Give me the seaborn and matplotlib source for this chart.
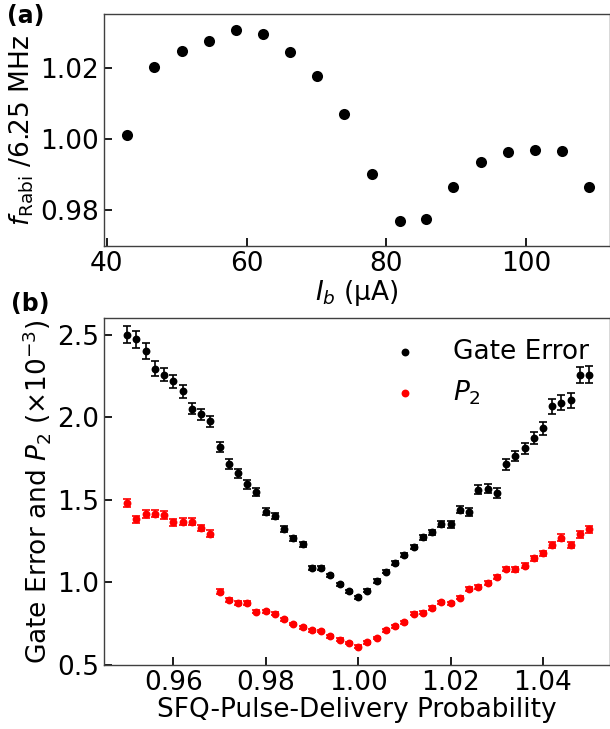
import numpy as np
import pandas as pd
import matplotlib
matplotlib.use("Agg")
import matplotlib.pyplot as plt
import seaborn as sns

# panel (a): Rabi frequency vs bias current
bias_current = [42.9, 46.8, 50.7, 54.6, 58.5, 62.4, 66.2, 70.1, 74.0,
                77.9, 81.9, 85.7, 89.6, 93.5, 97.4, 101.3, 105.2, 109.0]
rabi_ratio = [1.0012, 1.0203, 1.0247, 1.0274, 1.0305, 1.0294, 1.0243, 1.0177, 1.0071,
              0.9901, 0.9771, 0.9777, 0.9866, 0.9936, 0.9964, 0.9970, 0.9965, 0.9866]

# panel (b): gate error and P2 vs pulse delivery probability
prob = [0.950, 0.952, 0.954, 0.956, 0.958, 0.960, 0.962, 0.964, 0.966, 0.968,
        0.970, 0.972, 0.974, 0.976, 0.978, 0.980, 0.982, 0.984, 0.986, 0.988,
        0.990, 0.992, 0.994, 0.996, 0.998, 1.000, 1.002, 1.004, 1.006, 1.008,
        1.010, 1.012, 1.014, 1.016, 1.018, 1.020, 1.022, 1.024, 1.026, 1.028,
        1.030, 1.032, 1.034, 1.036, 1.038, 1.040, 1.042, 1.044, 1.046, 1.048, 1.050]
gate_error = [2.500, 2.471, 2.400, 2.294, 2.256, 2.217, 2.157, 2.052, 2.016, 1.974,
              1.822, 1.714, 1.659, 1.593, 1.546, 1.427, 1.401, 1.322, 1.266, 1.230,
              1.086, 1.086, 1.042, 0.988, 0.946, 0.909, 0.950, 1.008, 1.064, 1.115,
              1.165, 1.213, 1.272, 1.302, 1.352, 1.352, 1.441, 1.425, 1.562, 1.568,
              1.542, 1.714, 1.764, 1.812, 1.875, 1.933, 2.066, 2.086, 2.103, 2.254, 2.258]
gate_error_err = [0.050, 0.050, 0.050, 0.045, 0.040, 0.040, 0.040, 0.035, 0.035, 0.032,
                  0.030, 0.030, 0.028, 0.028, 0.025, 0.022, 0.020, 0.018, 0.015, 0.015,
                  0.012, 0.012, 0.010, 0.010, 0.010, 0.010, 0.010, 0.010, 0.010, 0.012,
                  0.012, 0.014, 0.015, 0.016, 0.018, 0.020, 0.022, 0.025, 0.027, 0.030,
                  0.030, 0.032, 0.032, 0.033, 0.035, 0.040, 0.045, 0.045, 0.045, 0.050, 0.050]
p2 = [1.481, 1.381, 1.413, 1.415, 1.407, 1.363, 1.367, 1.367, 1.330, 1.294,
      0.943, 0.893, 0.873, 0.873, 0.822, 0.824, 0.810, 0.776, 0.749, 0.727,
      0.709, 0.705, 0.673, 0.653, 0.634, 0.610, 0.637, 0.663, 0.709, 0.734,
      0.758, 0.810, 0.816, 0.844, 0.879, 0.873, 0.907, 0.957, 0.973, 0.997,
      1.030, 1.080, 1.078, 1.100, 1.145, 1.175, 1.225, 1.270, 1.225, 1.290, 1.320]
p2_err = [0.025, 0.022, 0.022, 0.022, 0.022, 0.020, 0.020, 0.020, 0.020, 0.020,
          0.015, 0.012, 0.012, 0.012, 0.010, 0.010, 0.010, 0.010, 0.008, 0.008,
          0.008, 0.008, 0.008, 0.008, 0.008, 0.008, 0.008, 0.008, 0.008, 0.008,
          0.008, 0.010, 0.010, 0.010, 0.010, 0.010, 0.010, 0.012, 0.012, 0.012,
          0.012, 0.014, 0.014, 0.015, 0.015, 0.016, 0.018, 0.020, 0.020, 0.020, 0.020]

sns.set_theme(style="ticks", rc={
    "font.size": 19, "axes.labelsize": 19, "xtick.labelsize": 19,
    "ytick.labelsize": 19, "legend.fontsize": 19,
    "xtick.direction": "in", "ytick.direction": "in",
    "xtick.major.size": 6, "ytick.major.size": 6,
    "axes.edgecolor": "0.25", "axes.linewidth": 1.0,
    "xtick.color": "black", "ytick.color": "black",
    "axes.labelcolor": "black", "text.color": "black",
})
plt.rcParams["font.family"] = ["DejaVu Sans"]

fig = plt.figure(figsize=(6.1, 7.29), dpi=100)
ax_a = fig.add_axes([0.1705, 0.6626, 0.8295, 0.318])
ax_b = fig.add_axes([0.1705, 0.0878, 0.8295, 0.476])

# (a)
sns.scatterplot(x=bias_current, y=rabi_ratio, ax=ax_a, color="black",
                s=64, linewidth=0)
ax_a.set_xlim(39.6, 112)
ax_a.set_ylim(0.970, 1.035)
ax_a.set_xticks([40, 60, 80, 100])
ax_a.set_yticks([0.98, 1.00, 1.02])
ax_a.set_xlabel("$I_b$ (µA)", labelpad=1)
ax_a.set_ylabel(r"$f_{\rm Rabi}$ /6.25 MHz", labelpad=3)

# (b)
ax_b.errorbar(prob, gate_error, yerr=gate_error_err, fmt="none",
              ecolor="black", elinewidth=1.2, capsize=3, capthick=1.2, zorder=1)
ax_b.errorbar(prob, p2, yerr=p2_err, fmt="none",
              ecolor="red", elinewidth=1.2, capsize=3, capthick=1.2, zorder=1)
sns.scatterplot(x=prob, y=gate_error, ax=ax_b, color="black", s=32,
                linewidth=0, label="Gate Error", zorder=3)
sns.scatterplot(x=prob, y=p2, ax=ax_b, color="red", s=32,
                linewidth=0, label="$P_2$", zorder=3)
ax_b.set_xlim(0.945, 1.0545)
ax_b.set_ylim(0.5, 2.6)
ax_b.set_xticks([0.96, 0.98, 1.00, 1.02, 1.04])
ax_b.set_yticks([0.5, 1.0, 1.5, 2.0, 2.5])
ax_b.set_xlabel("SFQ-Pulse-Delivery Probability", labelpad=1)
ax_b.set_ylabel(r"Gate Error and $P_2$ ($\times10^{-3}$)", labelpad=3)
ax_b.legend(loc="upper right", frameon=False, borderaxespad=0.4)

for ax in (ax_a, ax_b):
    ax.tick_params(top=False, right=False)

fig.text(0.012, 0.978, "(a)", fontsize=17, fontweight="bold", va="center")
fig.text(0.018, 0.583, "(b)", fontsize=17, fontweight="bold", va="center")

fig.savefig("out.png", dpi=100)
